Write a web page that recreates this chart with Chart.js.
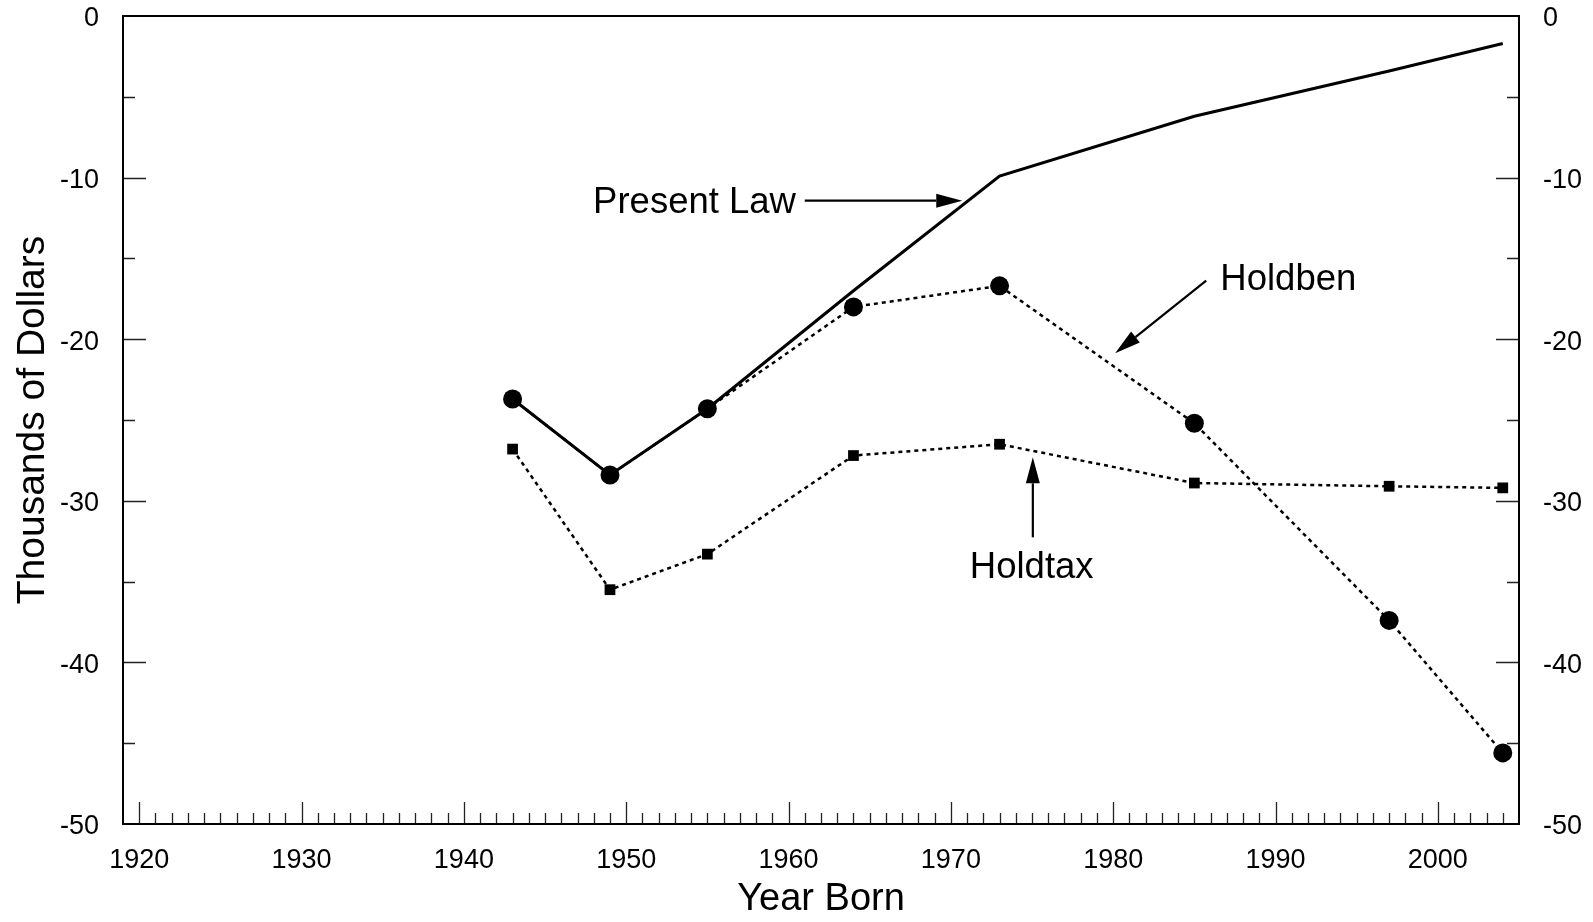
<!DOCTYPE html>
<html>
<head>
<meta charset="utf-8">
<script src="https://cdn.jsdelivr.net/npm/chart.js@4.4.1/dist/chart.umd.min.js"></script>
<style>
  html, body { margin: 0; padding: 0; background: #fff; }
  #wrap { width: 1593px; height: 922px; }
</style>
</head>
<body>
<div id="wrap"><canvas id="chart"></canvas></div>
<script>
var years = [1943, 1949, 1955, 1964, 1973, 1985, 1997, 2004];
var presentLaw = [-23.7, -28.4, -24.3, -17.0, -9.9, -6.2, -3.4, -1.7];
var holdben = [-23.7, -28.4, -24.3, -18.0, -16.7, -25.2, -37.4, -45.6];
var holdtax = [-26.8, -35.5, -33.3, -27.2, -26.5, -28.9, -29.1, -29.2];
var xTickLabels = [1920, 1930, 1940, 1950, 1960, 1970, 1980, 1990, 2000];
var yTickLabels = [0, -10, -20, -30, -40, -50];

var FONT = "'Liberation Sans', Arial, Helvetica, sans-serif";

function points(values) {
    var out = [];
    for (var i = 0; i < years.length; i++) {
        out.push({ x: years[i], y: values[i] });
    }
    return out;
}

// text labels + arrows, in data units
var notes = [
    { text: "Present Law", x: 1947.96, y: -12.19, align: "left", from: [1961.0, -11.43], to: [1970.7, -11.43] },
    { text: "Holdben", x: 1986.6, y: -16.96, align: "left", from: [1985.73, -16.38], to: [1980.12, -20.87] },
    { text: "Holdtax", x: 1974.98, y: -34.78, align: "center", from: [1975.05, -32.26], to: [1975.05, -27.31] }
];

function arrow(ctx, x1, y1, x2, y2) {
    var ang = Math.atan2(y2 - y1, x2 - x1);
    var len = 26, half = 7;
    var bx = x2 - len * Math.cos(ang), by = y2 - len * Math.sin(ang);
    ctx.beginPath();
    ctx.moveTo(x1, y1);
    ctx.lineTo(bx, by);
    ctx.lineWidth = 2.2;
    ctx.stroke();
    ctx.beginPath();
    ctx.moveTo(x2, y2);
    ctx.lineTo(bx + half * Math.sin(ang), by - half * Math.cos(ang));
    ctx.lineTo(bx - half * Math.sin(ang), by + half * Math.cos(ang));
    ctx.closePath();
    ctx.fill();
}

var framePlugin = {
    id: "frame",
    afterDraw: function (chart) {
        var ctx = chart.ctx;
        var a = chart.chartArea;
        var xs = chart.scales.x, ys = chart.scales.y;
        ctx.save();
        ctx.strokeStyle = "#000";
        ctx.fillStyle = "#000";

        // inward ticks
        ctx.lineWidth = 1.3;
        ctx.strokeStyle = "#222";
        ctx.beginPath();
        for (var yr = 1920; yr < xs.max; yr++) {
            var px = Math.round(xs.getPixelForValue(yr)) + 0.5;
            var l = yr % 10 == 0 ? 22 : 11;
            ctx.moveTo(px, a.bottom);
            ctx.lineTo(px, a.bottom - l);
        }
        for (var v = -45; v < 0; v += 5) {
            var py = Math.round(ys.getPixelForValue(v)) + 0.5;
            var l2 = v % 10 == 0 ? 23 : 12;
            ctx.moveTo(a.left, py);
            ctx.lineTo(a.left + l2, py);
            ctx.moveTo(a.right, py);
            ctx.lineTo(a.right - l2, py);
        }
        ctx.stroke();

        // box
        ctx.strokeStyle = "#000";
        ctx.lineWidth = 2;
        ctx.strokeRect(a.left, a.top, a.right - a.left, a.bottom - a.top);

        // annotations
        ctx.font = "36.5px " + FONT;
        ctx.textBaseline = "alphabetic";
        for (var i = 0; i < notes.length; i++) {
            var n = notes[i];
            ctx.textAlign = n.align;
            ctx.fillText(n.text, xs.getPixelForValue(n.x), ys.getPixelForValue(n.y));
            arrow(ctx,
                xs.getPixelForValue(n.from[0]), ys.getPixelForValue(n.from[1]),
                xs.getPixelForValue(n.to[0]), ys.getPixelForValue(n.to[1]));
        }
        ctx.restore();
    }
};

function yAxis(pos, width, withTitle) {
    return {
        type: "linear",
        position: pos,
        min: -50,
        max: 0,
        afterBuildTicks: function (s) {
            s.ticks = yTickLabels.map(function (v) { return { value: v }; });
        },
        afterFit: function (s) {
            s.width = width;
            s.paddingTop = 0;
            s.paddingBottom = 0;
        },
        grid: { display: false, drawTicks: false },
        border: { display: false },
        ticks: {
            color: "#000",
            font: { family: FONT, size: 27 },
            padding: 24,
            labelOffset: 3,
            callback: function (v) { return String(v); }
        },
        title: {
            display: withTitle,
            text: "Thousands of Dollars",
            color: "#000",
            font: { family: FONT, size: 39, lineHeight: 1 },
            padding: { top: 14, bottom: 0 }
        }
    };
}

new Chart(document.getElementById("chart"), {
    type: "line",
    data: {
        datasets: [
            {
                label: "Present Law",
                data: points(presentLaw),
                borderColor: "#000",
                borderWidth: 3,
                pointRadius: 0,
                tension: 0
            },
            {
                label: "Holdben",
                data: points(holdben),
                borderColor: "#000",
                borderWidth: 2.5,
                borderDash: [4, 4],
                pointStyle: "circle",
                pointRadius: 9.5,
                pointBackgroundColor: "#000",
                pointBorderWidth: 0,
                tension: 0
            },
            {
                label: "Holdtax",
                data: points(holdtax),
                borderColor: "#000",
                borderWidth: 2.5,
                borderDash: [4, 4],
                pointStyle: "rect",
                pointRadius: 7.6,
                pointBackgroundColor: "#000",
                pointBorderWidth: 0,
                tension: 0
            }
        ]
    },
    options: {
        responsive: true,
        maintainAspectRatio: false,
        animation: false,
        layout: { padding: { top: 16, left: 0, right: 0, bottom: 0 } },
        plugins: { legend: { display: false }, tooltip: { enabled: false } },
        scales: {
            x: {
                type: "linear",
                min: 1919,
                max: 2005,
                afterBuildTicks: function (s) {
                    s.ticks = xTickLabels.map(function (v) { return { value: v }; });
                },
                afterFit: function (s) {
                    s.height = 98;
                    s.paddingLeft = 0;
                    s.paddingRight = 0;
                },
                grid: { display: false, drawTicks: false },
                border: { display: false },
                ticks: {
                    color: "#000",
                    font: { family: FONT, size: 27 },
                    padding: 20,
                    maxRotation: 0,
                    autoSkip: false,
                    callback: function (v) { return String(v); }
                },
                title: {
                    display: true,
                    text: "Year Born",
                    color: "#000",
                    font: { family: FONT, size: 38, lineHeight: 1 },
                    padding: { top: 0, bottom: 3 }
                }
            },
            y: yAxis("left", 123, true),
            y2: yAxis("right", 74, false)
        }
    },
    plugins: [framePlugin]
});
</script>
</body>
</html>
